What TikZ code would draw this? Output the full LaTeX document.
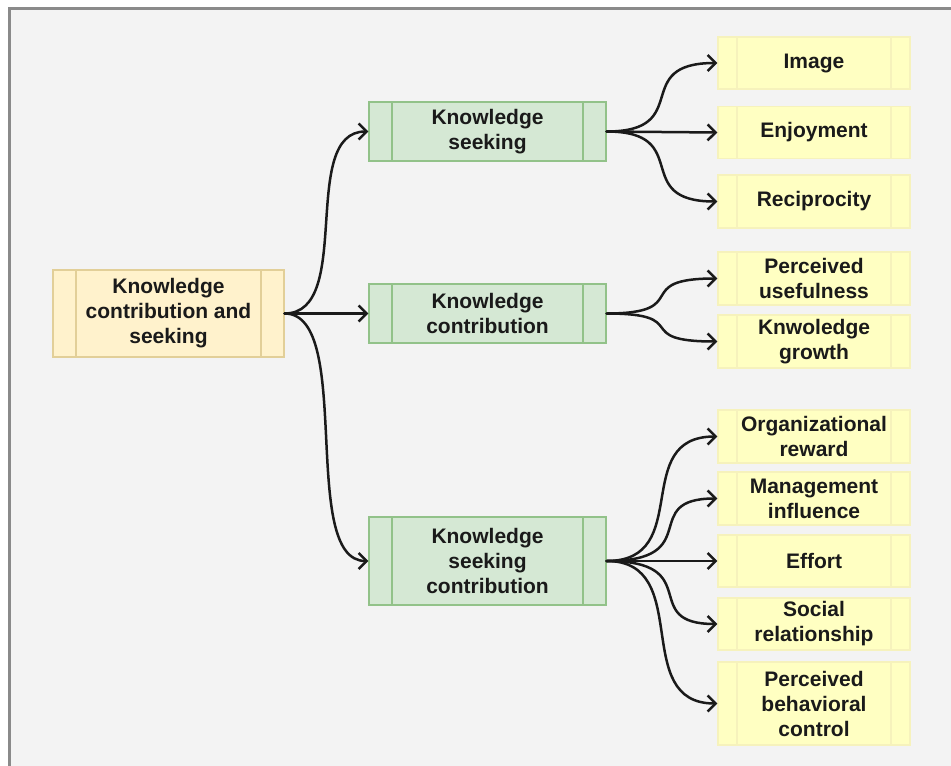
\documentclass[tikz,border=0pt]{standalone}
\usepackage{fontspec}
\setmainfont{Liberation Sans}
\usetikzlibrary{arrows.meta}

\definecolor{canvas}{HTML}{F3F3F3}
\definecolor{frameline}{HTML}{8A8A8A}
\definecolor{ink}{HTML}{1A1A1A}
\definecolor{rootfill}{HTML}{FFF2CC}
\definecolor{rootline}{HTML}{E2CF98}
\definecolor{greenfill}{HTML}{D5E8D4}
\definecolor{greenline}{HTML}{92C289}
\definecolor{leaffill}{HTML}{FFFFC2}
\definecolor{leafline}{HTML}{F6F2BC}

\tikzset{
  proc/.style n args={2}{rectangle, inner sep=0pt, align=center,
    line width=1.3pt, draw=#2, text=ink,
    font=\bfseries\fontsize{21}{25}\selectfont,
    path picture={
      \draw[line width=1.3pt, draw=#2]
        ([xshift=#1pt]path picture bounding box.north west) --
        ([xshift=#1pt]path picture bounding box.south west)
        ([xshift=-#1pt]path picture bounding box.north east) --
        ([xshift=-#1pt]path picture bounding box.south east);
    }},
  rootbox/.style={proc={23}{rootline}, fill=rootfill,
    minimum width=231pt, minimum height=87pt},
  groupbox/.style={proc={23}{greenline}, fill=greenfill,
    minimum width=237pt},
  leafbox/.style={proc={19}{leafline}, fill=leaffill,
    minimum width=192pt},
  link/.style={line width=2.5pt, draw=ink, line cap=round,
    -{Straight Barb[length=8pt,width=16pt,line width=2.5pt]}},
}

\begin{document}
\begin{tikzpicture}[x=1pt,y=-1pt]
  \useasboundingbox (0,0) rectangle (951,766);
  \fill[white] (0,0) rectangle (951,766);
  \fill[canvas] (10,9) rectangle (951,766);
  \draw[frameline, line width=2.5pt] (9.5,766) -- (9.5,8.5) -- (951,8.5);

  % root
  \node[rootbox] (root) at (168.5,313.5) {Knowledge\\contribution and\\seeking};

  % middle level
  \node[groupbox, minimum height=59pt] (seek) at (487.5,131.5) {Knowledge\\seeking};
  \node[groupbox, minimum height=59pt] (contrib) at (487.5,313.5) {Knowledge\\contribution};
  \node[groupbox, minimum height=88pt] (both) at (487.5,561) {Knowledge\\seeking\\contribution};

  % leaves
  \node[leafbox, minimum height=52pt] (image) at (814,63) {Image};
  \node[leafbox, minimum height=52pt] (enjoy) at (814,132.5) {Enjoyment};
  \node[leafbox, minimum height=53pt] (recip) at (814,201.5) {Reciprocity};
  \node[leafbox, minimum height=53pt] (useful) at (814,278.5) {Perceived\\usefulness};
  \node[leafbox, minimum height=53pt] (growth) at (814,341.5) {Knwoledge\\growth};
  \node[leafbox, minimum height=53pt] (reward) at (814,436.5) {Organizational\\reward};
  \node[leafbox, minimum height=53pt] (manage) at (814,498.5) {Management\\influence};
  \node[leafbox, minimum height=52pt] (effort) at (814,561) {Effort};
  \node[leafbox, minimum height=52pt] (social) at (814,624) {Social\\relationship};
  \node[leafbox, minimum height=83pt] (pbc) at (814,703.5) {Perceived\\behavioral\\control};

  % root to middle level
  \draw[link] (root.east) .. controls +(70,0) and +(-70,0) .. (seek.west);
  \draw[link] (root.east) -- (contrib.west);
  \draw[link] (root.east) .. controls +(70,0) and +(-70,0) .. (both.west);

  % middle level to leaves
  \foreach \leaf in {image,recip}
    \draw[link] (seek.east) .. controls +(88,0) and +(-88,0) .. (\leaf.west);
  \draw[link] (seek.east) -- (enjoy.west);

  \foreach \leaf in {useful,growth}
    \draw[link] (contrib.east) .. controls +(88,0) and +(-88,0) .. (\leaf.west);

  \foreach \leaf in {reward,pbc}
    \draw[link] (both.east) .. controls +(88,0) and +(-88,0) .. (\leaf.west);
  \foreach \leaf in {manage,social}
    \draw[link] (both.east) .. controls +(100,0) and +(-80,0) .. (\leaf.west);
  \draw[link] (both.east) -- (effort.west);
\end{tikzpicture}
\end{document}
